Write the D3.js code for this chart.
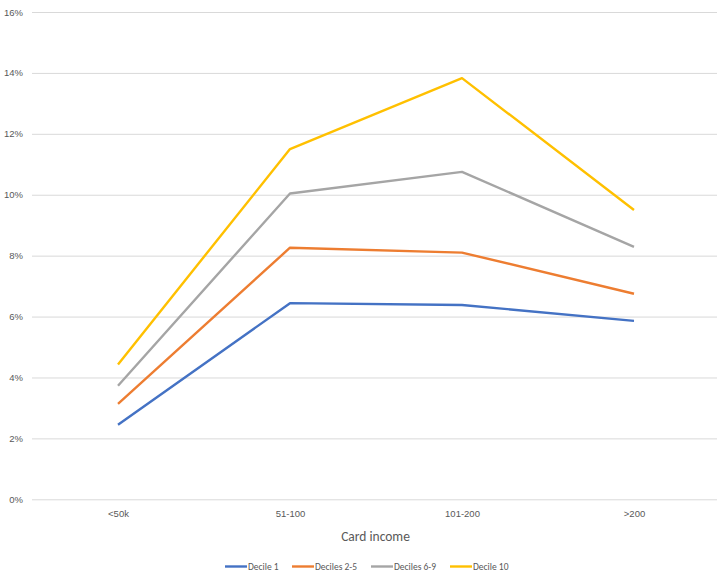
<!DOCTYPE html>
<html>
<head>
<meta charset="utf-8">
<script src="https://cdn.jsdelivr.net/npm/d3@7"></script>
<style>
  html, body { margin: 0; padding: 0; background: #fff; }
  svg { display: block; font-family: Calibri, Carlito, "Liberation Sans", "Open Sans", sans-serif; }
</style>
</head>
<body>
<svg id="chart" width="717" height="572"></svg>
<script>
// Income bands along the x axis
const categories = ["<50k", "51-100", "101-200", ">200"];

// Share (%) for each decile group
const decile1   = [2.45, 6.44, 6.38, 5.86];
const deciles25 = [3.13, 8.26, 8.10, 6.75];
const deciles69 = [3.73, 10.04, 10.75, 8.29];
const decile10  = [4.43, 11.50, 13.83, 9.50];

const seriesNames = ["Decile 1", "Deciles 2-5", "Deciles 6-9", "Decile 10"];
const seriesColors = ["#4472C4", "#ED7D31", "#A5A5A5", "#FFC000"];
const yTicks = [0, 2, 4, 6, 8, 10, 12, 14, 16];

const series = [decile1, deciles25, deciles69, decile10].map((vals, i) => ({
  name: seriesNames[i], color: seriesColors[i], values: vals
}));

const svg = d3.select("#chart");
const plot = { left: 32, right: 720, top: 12, bottom: 499.3 };

const x = d3.scalePoint().domain(categories).range([plot.left, plot.right]).padding(0.5);
const y = d3.scaleLinear().domain([0, 16]).range([plot.bottom, plot.top]);

// Gridlines and y tick labels
const yAxis = d3.axisLeft(y).tickValues(yTicks).tickFormat(d => d + "%")
  .tickSize(-(plot.right - plot.left)).tickPadding(9);
const gy = svg.append("g").attr("transform", `translate(${plot.left},0)`).call(yAxis);
gy.select(".domain").remove();
gy.selectAll(".tick line").attr("stroke", "#d9d9d9").attr("stroke-width", 1);
gy.selectAll(".tick text").attr("fill", "#595959").attr("font-size", 9.5);

// X tick labels
const xAxis = d3.axisBottom(x).tickSize(0).tickPadding(11);
const gx = svg.append("g").attr("transform", `translate(0,${plot.bottom})`).call(xAxis);
gx.select(".domain").remove();
gx.selectAll(".tick text").attr("fill", "#595959").attr("font-size", 9.5);

// Axis title
svg.append("text")
  .attr("x", (plot.left + 717) / 2 + 1).attr("y", 541)
  .attr("text-anchor", "middle").attr("fill", "#595959").attr("font-size", 13.5)
  .text("Card income");

// Lines
const line = d3.line().x((d, i) => x(categories[i])).y(d => y(d));
svg.append("g").selectAll("path").data(series).join("path")
  .attr("d", d => line(d.values))
  .attr("fill", "none")
  .attr("stroke", d => d.color)
  .attr("stroke-width", 2.4)
  .attr("stroke-linejoin", "round");

// Legend
const legendX = [225, 292, 371, 450];
const legend = svg.append("g").attr("transform", "translate(0,566.5)");
const items = legend.selectAll("g").data(series).join("g")
  .attr("transform", (d, i) => `translate(${legendX[i]},0)`);
items.append("line").attr("x1", 0).attr("x2", 22).attr("y1", 0).attr("y2", 0)
  .attr("stroke", d => d.color).attr("stroke-width", 2.4);
items.append("text").attr("x", 23).attr("y", 3.2)
  .attr("fill", "#595959").attr("font-size", 9.5).text(d => d.name);
</script>
</body>
</html>
